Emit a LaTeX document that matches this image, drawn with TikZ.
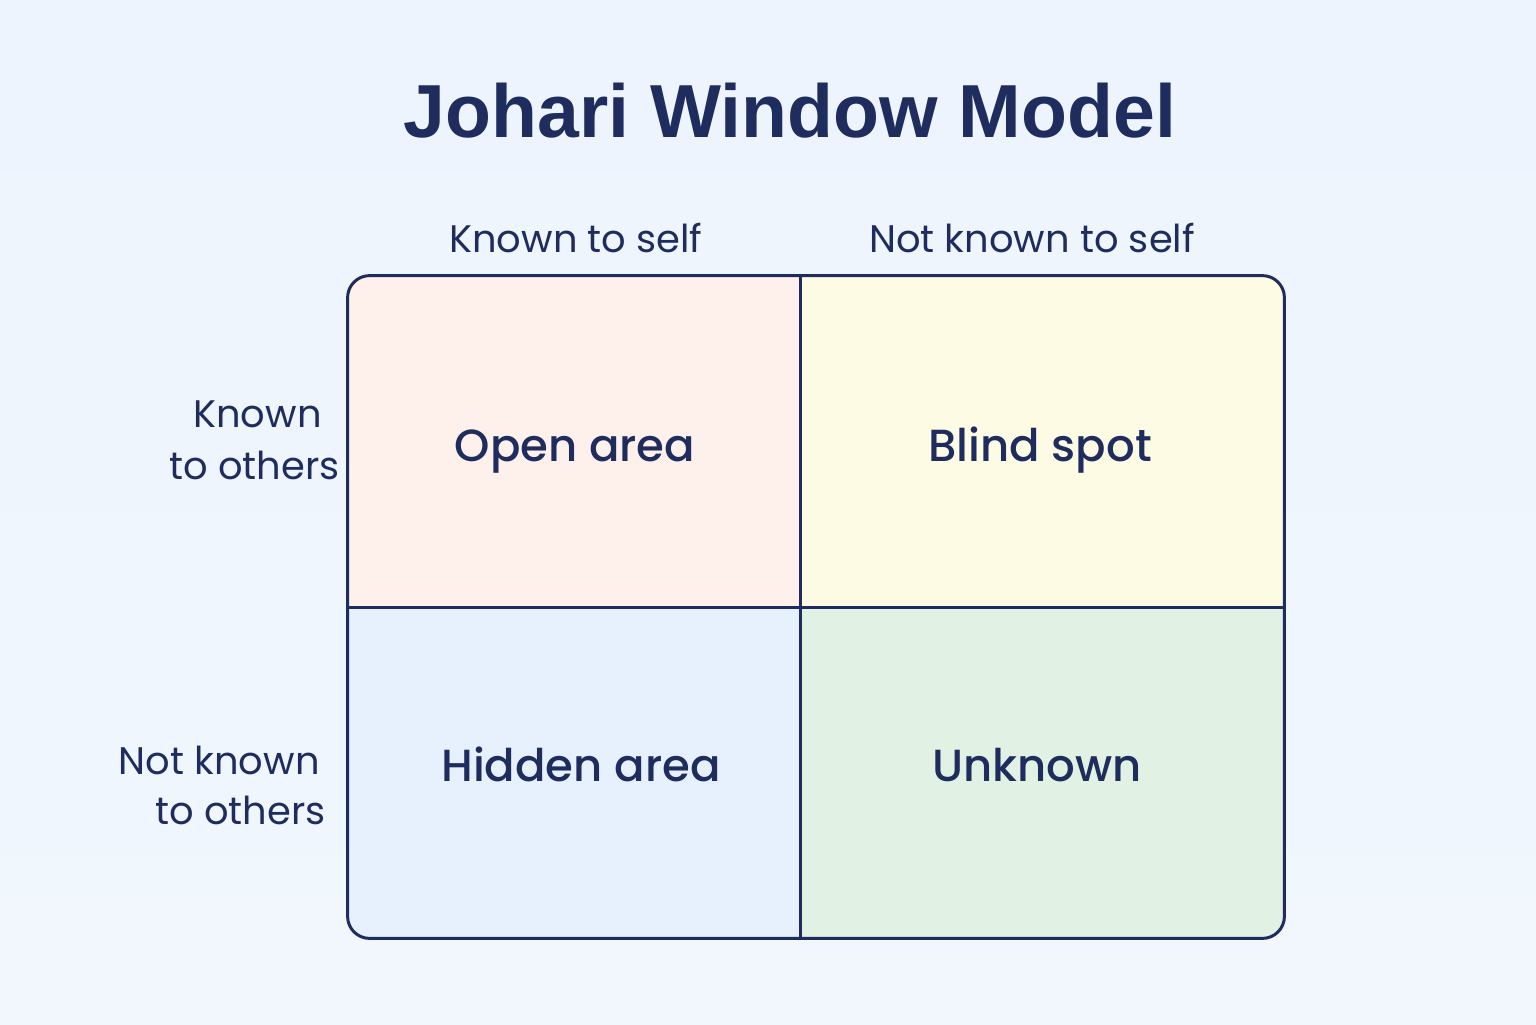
\documentclass[tikz,border=0pt]{standalone}
\usepackage{fontspec}
\setmainfont{Poppins}
\newfontfamily\titlefont{Liberation Sans}
\newfontfamily\labelfont{Poppins Medium}
\begin{document}
\definecolor{ink}{HTML}{1F2D5E}
\definecolor{bgA}{HTML}{EDF4FD}
\definecolor{bgB}{HTML}{F1F7FD}
\definecolor{openc}{HTML}{FEF0EA}
\definecolor{blindc}{HTML}{FEFBE5}
\definecolor{hiddenc}{HTML}{E6F1FD}
\definecolor{unknownc}{HTML}{E1F2E4}
\begin{tikzpicture}[x=0.5pt,y=-0.5pt,
  cell/.style={rectangle, inner sep=0pt},
  celltext/.style={text=ink, inner sep=0pt, anchor=base, font=\labelfont\fontsize{22.5}{26}\selectfont},
  colhead/.style={text=ink, inner sep=0pt, anchor=base, font=\fontsize{19.2}{22}\selectfont},
  rowhead/.style={text=ink, inner sep=0pt, anchor=base east, font=\fontsize{19.2}{22}\selectfont},
  grid/.style={draw=ink, line width=1.5pt}]
  % page background
  \shade[top color=bgA, bottom color=bgB] (0,0) rectangle (1536,1024);
  \useasboundingbox (0,0) rectangle (1536,1024);

  % title
  \node[text=ink, inner sep=0pt, anchor=base, font=\titlefont\bfseries\fontsize{37.6}{44}\selectfont] (title) at (790,137) {Johari Window Model};

  % column headings
  \node[colhead] (kself) at (576,252) {Known to self};
  \node[colhead] (nkself) at (1032,252) {Not known to self};

  % row headings
  \node[rowhead] (r1a) at (322,427) {Known};
  \node[rowhead] (r1b) at (340,479) {to others};
  \node[rowhead] (r2a) at (320,774) {Not known};
  \node[rowhead] (r2b) at (326,824) {to others};

  % the four quadrants, clipped to the rounded frame
  \begin{scope}
    \clip[rounded corners=11pt] (348,276) rectangle (1284,938);
    \node[cell, fill=openc, minimum width=226pt, minimum height=165.5pt] (open) at (574,441.5) {};
    \node[cell, fill=blindc, minimum width=242pt, minimum height=165.5pt] (blind) at (1042,441.5) {};
    \node[cell, fill=hiddenc, minimum width=226pt, minimum height=165.5pt] (hidden) at (574,772.5) {};
    \node[cell, fill=unknownc, minimum width=242pt, minimum height=165.5pt] (unknown) at (1042,772.5) {};
  \end{scope}
  \node[celltext] (openlbl) at (575,461) {Open area};
  \node[celltext] (blindlbl) at (1040,461) {Blind spot};
  \node[celltext] (hiddenlbl) at (581,781) {Hidden area};
  \node[celltext] (unknownlbl) at (1037,781) {Unknown};

  % frame and dividing lines
  \draw[grid, rounded corners=11pt] (open.north west) rectangle (unknown.south east);
  \draw[grid] (open.north east) -- (hidden.south east);
  \draw[grid] (open.south west) -- (blind.south east);
\end{tikzpicture}
\end{document}
